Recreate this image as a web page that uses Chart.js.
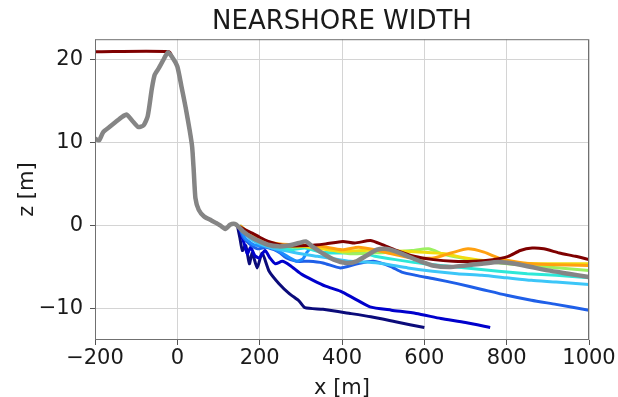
<!DOCTYPE html>
<html>
<head>
<meta charset="utf-8">
<title>Nearshore width</title>
<script src="https://cdn.jsdelivr.net/npm/chart.js@4.4.1/dist/chart.umd.min.js"></script>
<style>
    body { margin: 0; background: #ffffff; }
    #marco { width: 618px; height: 397px; overflow: hidden; }
</style>
</head>
<body>
<div id="marco">
    <canvas id="perfilChart" width="618" height="410"></canvas>
</div>
<script>
// Ticks de los ejes
var xTicks = [-200, 0, 200, 400, 600, 800, 1000];
var zTicks = [-10, 0, 10, 20];

// Perfil de la playa (gris), puntos [x, z]
var perfilGris = [[-200, 10.5], [-190, 10.3], [-180, 11.3], [-165, 11.9], [-150, 12.5], [-135, 13.1],
    [-123, 13.4], [-110, 12.7], [-95, 11.9], [-82, 12.1], [-72, 13.2], [-62, 16.5], [-55, 18.2],
    [-45, 19.0], [-35, 19.9], [-23, 20.9], [-12, 20.3], [0, 19.2], [10, 16.8], [20, 14.3], [30, 11.5],
    [36, 9.5], [40, 6.5], [44, 3.3], [52, 1.9], [65, 1.1], [80, 0.7], [95, 0.3], [105, 0], [117, -0.4],
    [128, 0.1], [140, 0.2], [148, -0.1], [160, -0.7], [180, -1.4], [200, -1.9], [220, -2.3], [245, -2.5],
    [270, -2.4], [295, -2.1], [312, -1.9], [330, -2.6], [355, -3.4], [380, -4.1], [410, -4.5], [435, -4.3],
    [460, -3.6], [485, -2.9], [505, -2.8], [530, -3.1], [560, -3.7], [590, -4.3], [620, -4.8], [660, -5.0],
    [700, -4.8], [740, -4.6], [780, -4.4], [820, -4.6], [860, -5.0], [900, -5.4], [950, -5.8], [1000, -6.2]];

// Cresta plana del perfil mas alto
var crestaPlana = [[-200, 21], [-20, 21]];

// Perfiles mar adentro, del azul oscuro al rojo oscuro
var perfil1 = [[146, 0], [152, -1.5], [158, -3.0], [166, -2.4], [175, -4.6], [182, -3.3], [194, -5.1],
    [206, -3.3], [223, -5.5], [247, -7.0], [272, -8.2], [296, -9.1], [310, -9.9], [354, -10.1],
    [420, -10.6], [470, -11.0], [530, -11.6], [600, -12.3]];
var perfil2 = [[148, 0], [156, -1.2], [162, -2.1], [170, -3.4], [178, -2.6], [188, -3.6], [199, -3.9],
    [213, -3.0], [225, -3.9], [238, -4.6], [255, -4.3], [274, -4.8], [300, -5.8], [330, -6.6],
    [360, -7.3], [396, -7.9], [430, -8.8], [468, -9.8], [520, -10.2], [580, -10.6], [640, -11.2],
    [700, -11.7], [760, -12.3]];
var perfil3 = [[150, 0], [160, -1.4], [175, -2.2], [195, -2.8], [215, -2.6], [235, -2.9], [250, -3.3],
    [265, -3.9], [290, -4.3], [320, -4.3], [354, -4.5], [396, -5.1], [437, -4.6], [476, -4.3],
    [517, -4.9], [545, -5.6], [580, -6.0], [623, -6.4], [680, -7.0], [740, -7.7], [800, -8.4],
    [860, -9.0], [920, -9.5], [1000, -10.2]];
var perfil4 = [[150, 0], [165, -1.5], [185, -2.3], [210, -2.5], [230, -2.7], [250, -3.2], [270, -3.8],
    [290, -4.3], [305, -4.0], [315, -3.2], [322, -2.8]];
var perfil5 = [[152, 0], [175, -1.5], [200, -2.2], [230, -2.7], [260, -3.0], [300, -3.4], [340, -3.7],
    [380, -4.0], [420, -4.3], [460, -4.4], [500, -4.6], [560, -5.1], [620, -5.5], [680, -5.8],
    [740, -6.0], [800, -6.3], [860, -6.6], [920, -6.8], [1000, -7.1]];
var perfil6 = [[152, 0], [180, -1.4], [210, -2.2], [245, -2.6], [280, -2.9], [310, -2.7], [350, -3.2],
    [400, -3.3], [440, -3.2], [480, -3.7], [530, -4.1], [600, -4.6], [660, -4.9], [720, -5.2],
    [780, -5.5], [850, -5.8], [920, -6.0], [1000, -6.3]];
var perfil7 = [[152, 0], [180, -1.3], [210, -2.0], [250, -2.4], [290, -2.6], [330, -2.4], [370, -2.9],
    [420, -3.4], [470, -3.3], [520, -3.2], [570, -3.0], [610, -2.8], [650, -3.5], [700, -4.0],
    [760, -4.4], [820, -4.7], [900, -5.0], [1000, -5.4]];
var perfil8 = [[152, 0], [180, -1.2], [210, -1.9], [250, -2.3], [300, -2.5], [350, -2.8], [400, -3.1],
    [450, -3.0], [500, -2.9], [550, -3.1], [600, -3.2], [650, -3.4], [700, -3.9], [760, -4.3],
    [820, -4.5], [900, -4.6], [1000, -4.6]];
var perfil9 = [[152, 0], [180, -1.1], [210, -1.8], [250, -2.2], [300, -2.3], [350, -2.5], [400, -2.9],
    [440, -2.6], [480, -2.9], [520, -3.4], [570, -3.9], [622, -3.9], [665, -3.3], [706, -2.8],
    [745, -3.2], [786, -4.0], [840, -4.5], [900, -4.7], [1000, -4.8]];
var perfil10 = [[150, -0.1], [165, -0.5], [182, -0.9], [200, -1.4], [221, -1.9], [259, -2.4], [317, -2.4],
    [360, -2.2], [402, -1.9], [431, -2.1], [469, -1.8], [498, -2.3], [527, -2.9], [575, -3.7],
    [622, -4.1], [670, -4.3], [718, -4.3], [766, -4.1], [804, -3.7], [833, -3.0], [862, -2.7],
    [890, -2.8], [928, -3.3], [967, -3.7], [1000, -4.1]];

var colores = ['#0b0b7a', '#0000cc', '#1f5fe8', '#1e8cff', '#3cc6f8', '#2ee8d8',
    '#9cf060', '#f2dc10', '#ffa010', '#7f0000'];
var perfiles = [perfil1, perfil2, perfil3, perfil4, perfil5, perfil6, perfil7, perfil8, perfil9, perfil10];

// Convierte pares [x, z] en puntos para Chart.js
function aPuntos(pares) {
    return pares.map(function (p) { return { x: p[0], y: p[1] }; });
}

// El perfil rojo oscuro lleva la cresta y la parte de tierra del perfil gris
var tierra = perfilGris.filter(function (p) { return p[0] > -20 && p[0] < 149; });
perfiles[9] = crestaPlana.concat(tierra).concat(perfil10);

// order: el numero mas bajo se dibuja encima (el gris queda arriba de todo)
var datasets = perfiles.map(function (pares, i) {
    return {
        data: aPuntos(pares),
        borderColor: colores[i],
        borderWidth: 3,
        pointRadius: 0,
        showLine: true,
        tension: 0.2,
        order: 20 - i
    };
});
datasets.push({
    data: aPuntos(perfilGris),
    borderColor: '#858585',
    borderWidth: 4.5,
    pointRadius: 0,
    showLine: true,
    tension: 0.2,
    order: 0
});

// Dibuja el marco completo alrededor del area del grafico
var marcoPlugin = {
    id: 'marco',
    afterDraw: function (chart) {
        var a = chart.chartArea;
        var ctx = chart.ctx;
        ctx.save();
        ctx.strokeStyle = '#707070';
        ctx.lineWidth = 1;
        ctx.strokeRect(a.left + 0.5, a.top + 0.5, a.right - a.left - 1, a.bottom - a.top - 1);
        ctx.restore();
    }
};

function formatoMenos(v) {
    return String(v).replace('-', '\u2212');
}

var fuente = { family: 'DejaVu Sans', size: 21 };

new Chart(document.getElementById('perfilChart').getContext('2d'), {
    type: 'scatter',
    data: { datasets: datasets },
    plugins: [marcoPlugin],
    options: {
        responsive: false,
        animation: false,
        devicePixelRatio: 1,
        layout: { padding: { left: 0, right: 29, top: 0, bottom: 0 } },
        plugins: {
            legend: { display: false },
            tooltip: { enabled: false },
            title: {
                display: true,
                fullSize: false,
                text: 'NEARSHORE WIDTH',
                color: '#1a1a1a',
                font: { family: 'DejaVu Sans', size: 26, weight: 'normal' },
                padding: { top: 7, bottom: 1 }
            }
        },
        scales: {
            x: {
                type: 'linear',
                min: -200,
                max: 1000,
                afterFit: function (s) { s.height = 70; },
                afterBuildTicks: function (s) { s.ticks = xTicks.map(function (v) { return { value: v }; }); },
                ticks: { color: '#1a1a1a', font: fuente, padding: 1, maxRotation: 0, callback: formatoMenos },
                grid: { color: '#d4d4d4', lineWidth: 1, tickLength: 5, tickColor: '#555555' },
                border: { display: false },
                title: { display: true, text: 'x [m]', color: '#1a1a1a', font: fuente, padding: { top: 0, bottom: 9 } }
            },
            y: {
                type: 'linear',
                min: -13.8,
                max: 22.5,
                afterFit: function (s) { s.width = 95; },
                afterBuildTicks: function (s) { s.ticks = zTicks.map(function (v) { return { value: v }; }); },
                ticks: { color: '#1a1a1a', font: fuente, padding: 7, callback: formatoMenos },
                grid: { color: '#d4d4d4', lineWidth: 1, tickLength: 5, tickColor: '#555555' },
                border: { display: false },
                title: { display: true, text: 'z [m]', color: '#1a1a1a', font: fuente, padding: { top: 15, bottom: 0 } }
            }
        }
    }
});
</script>
</body>
</html>
